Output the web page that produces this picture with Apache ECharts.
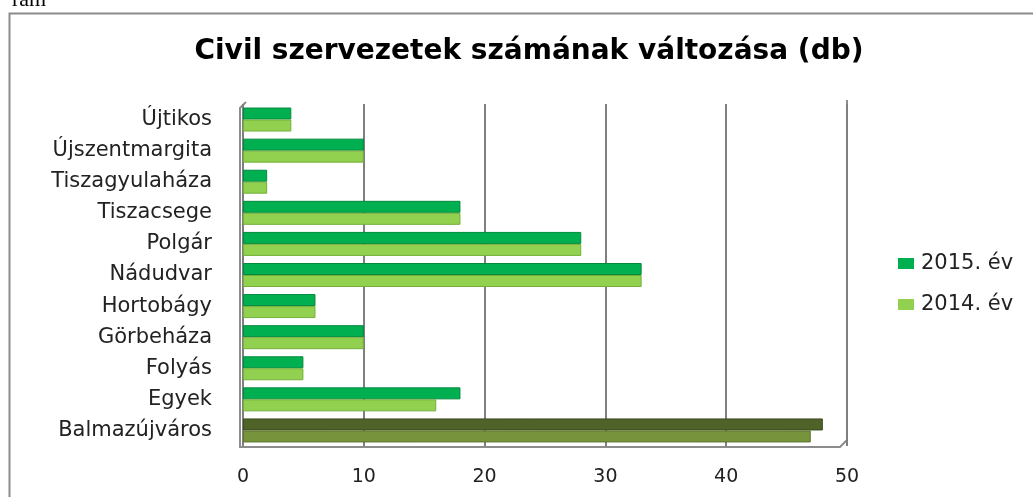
<!DOCTYPE html>
<html>
<head>
<meta charset="utf-8">
<script src="https://cdn.jsdelivr.net/npm/echarts@6/dist/echarts.min.js"></script>
<style>
html,body{margin:0;padding:0;background:#fff;}
#c{width:1033px;height:497px;}
</style>
</head>
<body>
<div id="c"></div>
<script>
const categories = ['Balmazújváros','Egyek','Folyás','Görbeháza','Hortobágy','Nádudvar','Polgár','Tiszacsege','Tiszagyulaháza','Újszentmargita','Újtikos'];
const values2015 = [48, 18, 5, 10, 6, 33, 28, 18, 2, 10, 4];
const values2014 = [47, 16, 5, 10, 6, 33, 28, 18, 2, 10, 4];
const seriesNames = ['2015. év', '2014. év'];
const xTicks = [0, 10, 20, 30, 40, 50];

const colors = {'2015. év': '#00B050', '2014. év': '#92D050'};
const specialColors = {'2015. év': '#4F6228', '2014. év': '#77933C'};
const edgeColors = {'2015. év': '#008a3e', '2014. év': '#74b03a'};
const specialEdge = {'2015. év': '#3a4a1d', '2014. év': '#5e7630'};

function buildData(vals, name) {
  return vals.map((v, i) => i === 0
    ? {value: v, itemStyle: {color: specialColors[name], borderColor: specialEdge[name]}}
    : v);
}

const chart = echarts.init(document.getElementById('c'));
chart.setOption({
  animation: false,
  title: {
    text: 'Civil szervezetek számának változása (db)',
    left: 524, top: 33, textAlign: 'center',
    textStyle: {fontFamily: 'DejaVu Sans', fontWeight: 'bold', fontSize: 28, color: '#000'}
  },
  graphic: [
    {type: 'rect', shape: {x: 9.5, y: 13.5, width: 1040, height: 500}, style: {fill: 'none', stroke: '#8c8c8c', lineWidth: 2}, silent: true},
    {type: 'text', style: {x: 12, y: 11, text: 'ram', font: '22px "Liberation Serif"', fill: '#000', verticalAlign: 'bottom'}, silent: true},
    {type: 'polyline', shape: {points: [[847, 100], [847, 440], [840, 447], [240, 447], [240, 108], [246, 102]]}, style: {fill: 'none', stroke: '#8c8c8c', lineWidth: 2}, silent: true}
  ],
  legend: {
    data: seriesNames,
    orient: 'vertical',
    left: 893, top: 248,
    itemWidth: 16, itemHeight: 11, itemGap: 20,
    icon: 'rect',
    itemStyle: {borderWidth: 0},
    textStyle: {fontFamily: 'DejaVu Sans', fontSize: 21, lineHeight: 20, color: '#222', padding: [0, 0, 0, 2]}
  },
  grid: {left: 243, right: 186, top: 104, bottom: 51, containLabel: false},
  xAxis: {
    type: 'value', min: 0, max: 50, interval: 10,
    axisLine: {show: false}, axisTick: {show: false},
    splitLine: {show: true, lineStyle: {color: '#7f7f7f', width: 2}},
    axisLabel: {fontFamily: 'DejaVu Sans', fontSize: 19, color: '#222', margin: 22,
      formatter: v => xTicks.includes(v) ? String(v) : ''}
  },
  yAxis: {
    type: 'category', data: categories,
    axisLine: {show: false}, axisTick: {show: false},
    axisLabel: {fontFamily: 'DejaVu Sans', fontSize: 21, color: '#222', margin: 31}
  },
  series: seriesNames.map((name, k) => ({
    name: name, type: 'bar',
    data: buildData(k === 0 ? values2015 : values2014, name),
    barWidth: 12, barGap: '0%',
    itemStyle: {color: colors[name], borderColor: edgeColors[name], borderWidth: 1}
  }))
});
</script>
</body>
</html>
